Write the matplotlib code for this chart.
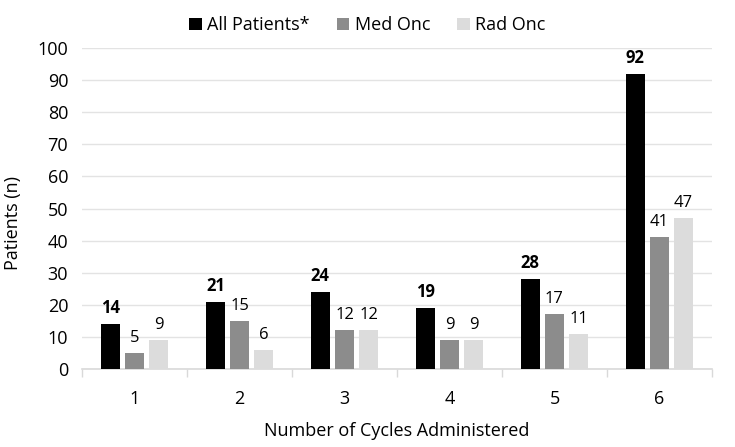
import matplotlib
matplotlib.use("Agg")
import matplotlib.pyplot as plt
import numpy as np

plt.rcParams["font.family"] = ["Open Sans", "DejaVu Sans"]

cycles = ["1", "2", "3", "4", "5", "6"]
all_patients = [14, 21, 24, 19, 28, 92]
med_onc = [5, 15, 12, 9, 17, 41]
rad_onc = [9, 6, 12, 9, 11, 47]

fig = plt.figure(figsize=(7.35, 4.47), dpi=100)
ax = fig.add_axes([0.1116, 0.1745, 0.857, 0.718])

x = np.arange(len(cycles))
w = 0.18
step = 0.23
series = [
    (all_patients, "All Patients*", "#000000", "bold"),
    (med_onc, "Med Onc", "#8c8c8c", "normal"),
    (rad_onc, "Rad Onc", "#dcdcdc", "normal"),
]
for i, (vals, label, color, weight) in enumerate(series):
    pos = x + (i - 1) * step
    bars = ax.bar(pos, vals, w, color=color, label=label, zorder=3)
    for b, v in zip(bars, vals):
        ax.text(b.get_x() + b.get_width() / 2, v + 2.2, str(v),
                ha="center", va="bottom", fontsize=12, fontweight=weight)

ax.set_xlim(-0.5, len(cycles) - 0.5)
ax.set_ylim(0, 100)
ax.set_yticks(np.arange(0, 101, 10))
ax.set_xticks(x)
ax.set_xticklabels(cycles)
ax.set_xticks(np.arange(-0.5, len(cycles), 1), minor=True)
ax.tick_params(axis="x", which="major", length=0, pad=15, labelsize=13)
ax.tick_params(axis="x", which="minor", length=6, color="#d9d9d9", width=1)
ax.tick_params(axis="y", length=0, pad=10, labelsize=13)

ax.grid(axis="y", color="#e3e3e3", linewidth=1, zorder=0)
for s in ["top", "right", "left"]:
    ax.spines[s].set_visible(False)
ax.spines["bottom"].set_color("#d9d9d9")
ax.spines["bottom"].set_linewidth(1.2)

ax.set_xlabel("Number of Cycles Administered", fontsize=13, labelpad=10)
fig.text(0.018, 0.5, "Patients (n)", rotation=90, fontsize=13, ha="center", va="center")

fig.legend(loc="upper center", bbox_to_anchor=(0.5, 1.0), ncol=3, frameon=False,
           fontsize=13, handlelength=0.7, handleheight=0.7, handletextpad=0.3,
           columnspacing=1.5)

fig.savefig("out.png", dpi=100)
